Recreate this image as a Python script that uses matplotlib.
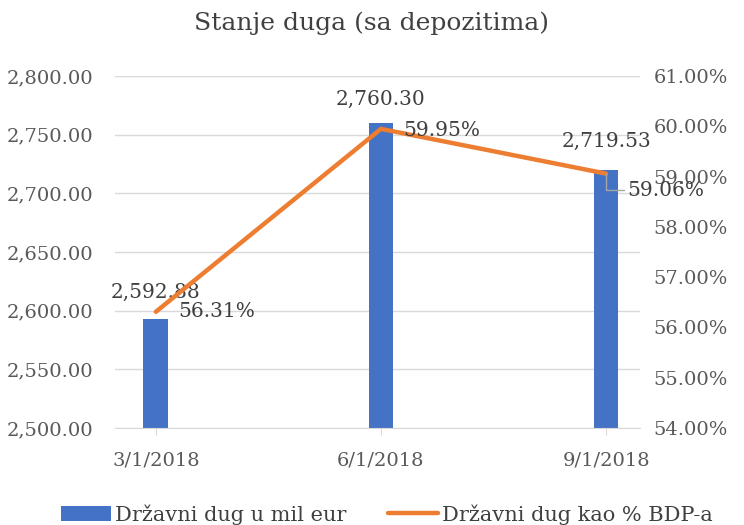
import matplotlib.pyplot as plt
from matplotlib.ticker import FuncFormatter

# data
dates = ['3/1/2018', '6/1/2018', '9/1/2018']
debt_mil_eur = [2592.88, 2760.30, 2719.53]
debt_pct_gdp = [56.31, 59.95, 59.06]

plt.rcParams['font.family'] = ['DejaVu Serif']
txt = '#404040'
tick_col = '#595959'
fs = 14.5

fig = plt.figure(figsize=(7.44, 5.25), dpi=100)
ax = fig.add_axes([0.155, 0.185, 0.705, 0.67])
ax2 = ax.twinx()

x = list(range(len(dates)))
ax.bar(x, debt_mil_eur, width=0.11, color='#4472C4', zorder=2, label='Državni dug u mil eur')
ax2.plot(x, debt_pct_gdp, color='#ED7D31', lw=3.2, solid_capstyle='round', zorder=3,
         label='Državni dug kao % BDP-a')

ax.set_ylim(2500, 2800)
ax.set_yticks(range(2500, 2801, 50))
ax.yaxis.set_major_formatter(FuncFormatter(lambda v, p: f'{v:,.2f}'))
ax2.set_ylim(54, 61)
ax2.set_yticks(range(54, 62))
ax2.yaxis.set_major_formatter(FuncFormatter(lambda v, p: f'{v:.2f}%'))
ax.set_xlim(-0.18, 2.15)
ax.set_xticks(x)
ax.set_xticklabels(dates)

ax.grid(axis='y', color='#D9D9D9', lw=1, zorder=0)
for a in (ax, ax2):
    for s in a.spines.values():
        s.set_visible(False)
    a.tick_params(length=0, labelsize=14, colors=tick_col)
ax.tick_params(axis='y', pad=16)
ax2.tick_params(axis='y', pad=10)
ax.spines['bottom'].set_visible(True)
ax.spines['bottom'].set_color('#D9D9D9')
ax.tick_params(axis='x', length=5, color='#D9D9D9', direction='out', pad=12)

# bar labels
ax.annotate(f'{debt_mil_eur[0]:,.2f}', (x[0], debt_mil_eur[0]), xytext=(0, 12),
            textcoords='offset points', ha='center', va='bottom', fontsize=fs, color=txt)
ax.annotate(f'{debt_mil_eur[1]:,.2f}', (x[1], debt_mil_eur[1]), xytext=(0, 10),
            textcoords='offset points', ha='center', va='bottom', fontsize=fs, color=txt)
ax.annotate(f'{debt_mil_eur[2]:,.2f}', (x[2], debt_mil_eur[2]), xytext=(0, 14),
            textcoords='offset points', ha='center', va='bottom', fontsize=fs, color=txt)

# line labels
ax2.annotate(f'{debt_pct_gdp[0]:.2f}%', (x[0], debt_pct_gdp[0]), xytext=(16, 0),
             textcoords='offset points', ha='left', va='center', fontsize=fs, color=txt)
ax2.annotate(f'{debt_pct_gdp[1]:.2f}%', (x[1], debt_pct_gdp[1]), xytext=(16, -1),
             textcoords='offset points', ha='left', va='center', fontsize=fs, color=txt)
ax2.annotate(f'{debt_pct_gdp[2]:.2f}%', (x[2], debt_pct_gdp[2]), xytext=(15, -12),
             textcoords='offset points', ha='left', va='center', fontsize=fs, color=txt,
             arrowprops=dict(arrowstyle='-', color='#A6A6A6', lw=1,
                             connectionstyle='angle,angleA=0,angleB=90,rad=0',
                             shrinkA=0, shrinkB=0))

fig.suptitle('Stanje duga (sa depozitima)', y=0.978, fontsize=18, color=txt)

h1, l1 = ax.get_legend_handles_labels()
h2, l2 = ax2.get_legend_handles_labels()
fig.legend(h1 + h2, l1 + l2, loc='lower center', bbox_to_anchor=(0.52, -0.035), ncol=2,
           frameon=False, fontsize=15, labelcolor=txt, handlelength=2.4,
           handletextpad=0.2, columnspacing=2.0)

fig.savefig('out.png', dpi=100)
